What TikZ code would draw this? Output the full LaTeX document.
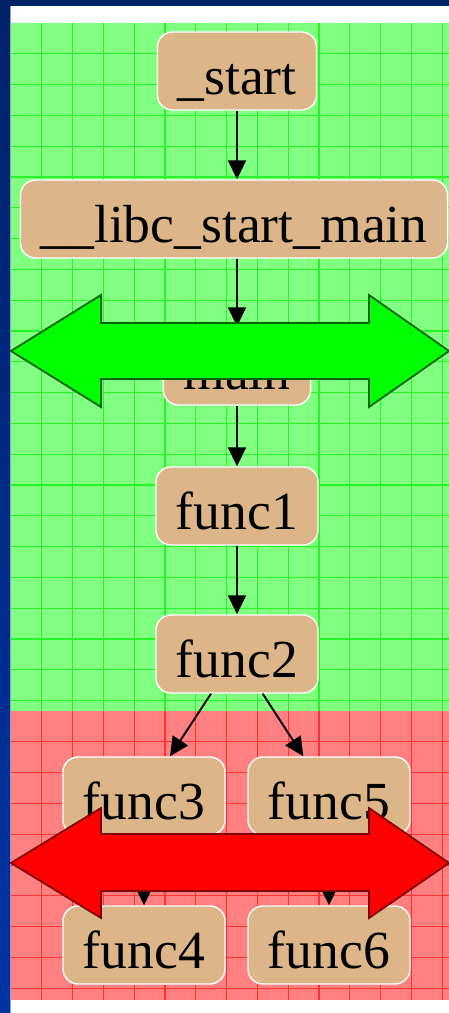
\documentclass[tikz,border=0pt]{standalone}
\usepackage{fontspec}
\setmainfont{Liberation Serif}
\usetikzlibrary{arrows.meta}
\definecolor{navy}{RGB}{0,34,104}
\definecolor{stripblue}{RGB}{0,52,162}
\definecolor{edgeblue}{RGB}{140,160,215}
\definecolor{okfill}{RGB}{128,255,128}
\definecolor{okline}{RGB}{40,245,40}
\definecolor{badfill}{RGB}{255,128,128}
\definecolor{badline}{RGB}{255,50,50}
\definecolor{nodetan}{RGB}{220,182,136}
\definecolor{okarrow}{RGB}{0,255,0}
\definecolor{okarrowedge}{RGB}{0,100,0}
\definecolor{badarrow}{RGB}{255,0,0}
\definecolor{badarrowedge}{RGB}{128,0,0}
\tikzset{
    fn/.style={draw=white, line width=0.8pt, fill=nodetan, rounded corners=0.3cm,
        inner xsep=0.4cm, inner ysep=0pt, minimum height=1.56cm,
        text height=27pt, text depth=0pt,
        font=\fontsize{30.5}{35}\selectfont},
    call/.style={-{Triangle[length=0.38cm,width=0.36cm]}, line width=1.1pt},
    gridline/.style={line width=0.6pt},
    bigarrow/.style={line width=1pt, line join=miter},
}

\begin{document}
\begin{tikzpicture}[x=0.02cm, y=-0.02cm]
    \useasboundingbox (0,0) rectangle (449,1013);
    \fill[white] (0,0) rectangle (449,1013);
    \shade[top color=navy, bottom color=stripblue] (0,0) rectangle (10,1013);
    \fill[navy] (0,0) rectangle (449,6);
    \draw[edgeblue, line width=0.6pt] (10.5,6) -- (10.5,1013);

    \fill[okfill] (11,23) rectangle (449,711);
    \fill[badfill] (11,711) rectangle (449,1000);
    \foreach \k in {1,...,14} {
        \draw[gridline, okline] ({11+30.8*\k},23) -- ({11+30.8*\k},711);
        \draw[gridline, badline] ({11+30.8*\k},711) -- ({11+30.8*\k},1000);
    }
    \foreach \k in {1,...,22}
        \draw[gridline, okline] (11,{23+30.8*\k}) -- (449,{23+30.8*\k});
    \foreach \k in {1,...,9}
        \draw[gridline, badline] (11,{711+30.8*\k}) -- (449,{711+30.8*\k});

    \node[fn] (start) at (237,71) {\_start};
    \node[fn] (libc) at (234,219) {\_\_libc\_start\_main};
    \node[fn] (main) at (237,366) {main};
    \node[fn] (func1) at (237,506) {func1};
    \node[fn] (func2) at (237,654) {func2};
    \node[fn] (func3) at (144,796) {func3};
    \node[fn] (func5) at (329,796) {func5};
    \node[fn] (func4) at (144,945) {func4};
    \node[fn] (func6) at (329,945) {func6};

    \draw[call] (start) -- (start |- libc.north);
    \draw[call] (main |- libc.south) -- (main);
    \draw[call] (main) -- (func1);
    \draw[call] (func1) -- (func2);
    \draw[call] (func2) -- (func3);
    \draw[call] (func2) -- (func5);
    \draw[call] (func3) -- (func4);
    \draw[call] (func5) -- (func6);

    \draw[bigarrow, fill=okarrow, draw=okarrowedge] (11,351) -- (101,295) -- (101,323)
        -- (369,323) -- (369,295) -- (449,351) -- (369,407) -- (369,379) -- (101,379)
        -- (101,407) -- cycle;
    \draw[bigarrow, fill=badarrow, draw=badarrowedge] (11,863) -- (101,808) -- (101,834)
        -- (369,834) -- (369,808) -- (449,863) -- (369,918) -- (369,891) -- (101,891)
        -- (101,918) -- cycle;
\end{tikzpicture}
\end{document}
